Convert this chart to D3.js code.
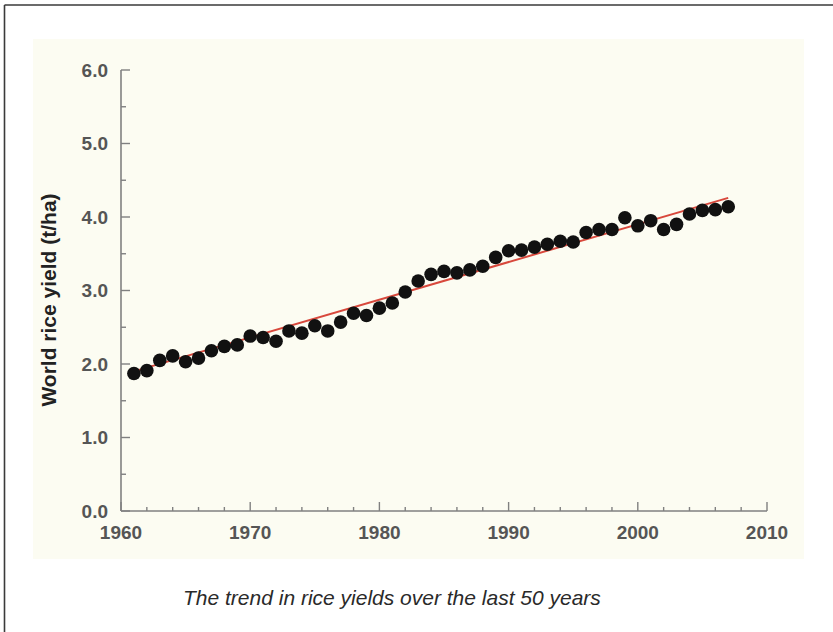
<!DOCTYPE html>
<html>
<head>
<meta charset="utf-8">
<script src="https://cdn.jsdelivr.net/npm/d3@7"></script>
<style>
  html, body { margin: 0; padding: 0; background: #ffffff; }
  svg { display: block; }
</style>
</head>
<body>
<svg id="chart" width="833" height="632"></svg>
<script>
// World rice yield, 1961–2007 (t/ha)
const years = [
  1961, 1962, 1963, 1964, 1965, 1966, 1967, 1968, 1969, 1970,
  1971, 1972, 1973, 1974, 1975, 1976, 1977, 1978, 1979, 1980,
  1981, 1982, 1983, 1984, 1985, 1986, 1987, 1988, 1989, 1990,
  1991, 1992, 1993, 1994, 1995, 1996, 1997, 1998, 1999, 2000,
  2001, 2002, 2003, 2004, 2005, 2006, 2007
];
const yields = [
  1.87, 1.91, 2.05, 2.11, 2.03, 2.08, 2.18, 2.24, 2.26, 2.38,
  2.36, 2.31, 2.45, 2.42, 2.52, 2.45, 2.57, 2.69, 2.66, 2.76,
  2.83, 2.98, 3.13, 3.22, 3.26, 3.24, 3.28, 3.33, 3.45, 3.54,
  3.55, 3.59, 3.63, 3.67, 3.66, 3.79, 3.83, 3.83, 3.99, 3.88,
  3.95, 3.83, 3.90, 4.04, 4.09, 4.10, 4.14
];
// Linear trend, start and end
const trendYears = [1961, 2007];
const trendValues = [1.90, 4.26];

const xTicks = [1960, 1970, 1980, 1990, 2000, 2010];
const yTicks = [0, 1, 2, 3, 4, 5, 6];
const yLabel = "World rice yield (t/ha)";
const caption = "The trend in rice yields over the last 50 years";

const svg = d3.select("#chart");

// Page frame: top and left rules
svg.append("line").attr("x1", 4.5).attr("x2", 833).attr("y1", 5).attr("y2", 5)
  .attr("stroke", "#3a3a3a").attr("stroke-width", 1.6);
svg.append("line").attr("x1", 4.5).attr("x2", 4.5).attr("y1", 5).attr("y2", 632)
  .attr("stroke", "#3a3a3a").attr("stroke-width", 1.6);

// Cream panel behind the figure
svg.append("rect").attr("x", 33).attr("y", 39).attr("width", 771).attr("height", 520)
  .attr("fill", "#fcfcf2");

const x = d3.scaleLinear().domain([1960, 2010]).range([121, 767]);
const y = d3.scaleLinear().domain([0, 6]).range([511, 70]);

const axisColor = "#808080";
const tickFont = "'Liberation Sans', Arial, sans-serif";

// Y axis: inward ticks, minor every 0.5
const gy = svg.append("g").attr("transform", `translate(${x(1960)},0)`);
gy.append("line").attr("x1", 0).attr("x2", 0).attr("y1", y(6)).attr("y2", y(0))
  .attr("stroke", axisColor).attr("stroke-width", 1.6);
gy.selectAll("line.minor").data(d3.range(0.5, 6, 1)).join("line").attr("class", "minor")
  .attr("x1", 0).attr("x2", 5).attr("y1", d => y(d)).attr("y2", d => y(d))
  .attr("stroke", axisColor).attr("stroke-width", 1.4);
gy.selectAll("line.major").data(yTicks).join("line").attr("class", "major")
  .attr("x1", 0).attr("x2", 9).attr("y1", d => y(d)).attr("y2", d => y(d))
  .attr("stroke", axisColor).attr("stroke-width", 1.4);
gy.selectAll("text").data(yTicks).join("text")
  .attr("x", -13).attr("y", d => y(d)).attr("dy", "0.36em")
  .attr("text-anchor", "end")
  .attr("font-family", tickFont).attr("font-size", 19).attr("font-weight", "bold")
  .attr("fill", "#555").text(d => d3.format(".1f")(d));

// X axis: inward ticks, minor every 2 years
const gx = svg.append("g").attr("transform", `translate(0,${y(0)})`);
gx.append("line").attr("x1", x(1960)).attr("x2", x(2010)).attr("y1", 0).attr("y2", 0)
  .attr("stroke", axisColor).attr("stroke-width", 1.6);
gx.selectAll("line.minor").data(d3.range(1962, 2010, 2).filter(v => v % 10 !== 0)).join("line")
  .attr("class", "minor")
  .attr("x1", d => x(d)).attr("x2", d => x(d)).attr("y1", 0).attr("y2", -4)
  .attr("stroke", axisColor).attr("stroke-width", 1.4);
gx.selectAll("line.major").data(xTicks).join("line").attr("class", "major")
  .attr("x1", d => x(d)).attr("x2", d => x(d)).attr("y1", 0).attr("y2", -9)
  .attr("stroke", axisColor).attr("stroke-width", 1.4);
gx.selectAll("text").data(xTicks).join("text")
  .attr("x", d => x(d)).attr("y", 28)
  .attr("text-anchor", "middle")
  .attr("font-family", tickFont).attr("font-size", 19).attr("font-weight", "bold")
  .attr("fill", "#555").text(d => d);

// Y axis title
svg.append("text")
  .attr("transform", `translate(56,300) rotate(-90)`)
  .attr("text-anchor", "middle")
  .attr("font-family", tickFont).attr("font-size", 21).attr("font-weight", "bold")
  .attr("fill", "#222").text(yLabel);

// Trend line
svg.append("line")
  .attr("x1", x(trendYears[0])).attr("y1", y(trendValues[0]))
  .attr("x2", x(trendYears[1])).attr("y2", y(trendValues[1]))
  .attr("stroke", "#d8483c").attr("stroke-width", 2);

// Annual yields
svg.append("g").selectAll("circle").data(years.map((yr, i) => [yr, yields[i]])).join("circle")
  .attr("cx", d => x(d[0])).attr("cy", d => y(d[1])).attr("r", 6.8)
  .attr("fill", "#111");

// Caption
svg.append("text")
  .attr("x", 183).attr("y", 605)
  .attr("font-family", tickFont).attr("font-size", 21).attr("font-style", "italic")
  .attr("fill", "#2a2a2a").text(caption);
</script>
</body>
</html>
